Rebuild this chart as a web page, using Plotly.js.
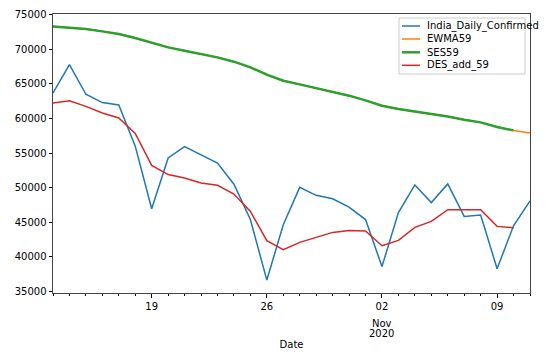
<!DOCTYPE html>
<html>
<head>
<meta charset="utf-8">
<script src="https://cdn.plot.ly/plotly-3.0.1.min.js"></script>
<style>html,body{margin:0;padding:0;background:#fff;}#chart{width:557px;height:360px;}</style>
</head>
<body>
<div id="chart"></div>
<script>
const dates = ["2020-10-13","2020-10-14","2020-10-15","2020-10-16","2020-10-17","2020-10-18","2020-10-19","2020-10-20","2020-10-21","2020-10-22","2020-10-23","2020-10-24","2020-10-25","2020-10-26","2020-10-27","2020-10-28","2020-10-29","2020-10-30","2020-10-31","2020-11-01","2020-11-02","2020-11-03","2020-11-04","2020-11-05","2020-11-06","2020-11-07","2020-11-08","2020-11-09","2020-11-10","2020-11-11"];
const dailyConfirmed = [63700,67800,63500,62300,61950,56000,46950,54300,55950,54750,53550,50500,45400,36650,44650,50050,48900,48400,47200,45400,38600,46400,50400,47850,50550,45850,46050,38300,44500,48100];
const ewma59 = [73310,73170,72930,72590,72210,71630,70910,70280,69800,69320,68830,68210,67390,66330,65460,64930,64400,63830,63300,62620,61850,61370,61030,60650,60300,59830,59440,58770,58280,57910];
const ses59 = [73310,73170,72930,72590,72210,71630,70910,70280,69800,69320,68830,68210,67390,66330,65460,64930,64400,63830,63300,62620,61850,61370,61030,60650,60300,59830,59440,58770,58280,null];
const desAdd59 = [62240,62570,61750,60800,60070,57850,53230,51900,51410,50680,50340,49090,46580,42340,41040,42100,42820,43540,43830,43740,41620,42390,44270,45140,46820,46820,46820,44410,44220,null];
const seriesNames = ["India_Daily_Confirmed","EWMA59","SES59","DES_add_59"];
const majorTicks = ["2020-10-19","2020-10-26","2020-11-02","2020-11-09"];
const majorTickText = ["19","26","02","09"];
const yTicks = [35000,40000,45000,50000,55000,60000,65000,70000,75000];

const colors = ["#1f77b4","#ff7f0e","#2ca02c","#d62728"];
const widths = [1.5,1.5,2.5,1.5];
const font = {family: "DejaVu Sans", size: 10, color: "#000"};
const seriesValues = [dailyConfirmed, ewma59, ses59, desAdd59];
const traces = seriesValues.map((v, i) => ({
  x: dates, y: v, name: seriesNames[i], mode: "lines", line: {color: colors[i], width: widths[i]}, showlegend: false
}));

// plot-area geometry in pixels (for the hand-drawn legend)
const W = 557, H = 360, L = 53, R = 27, T = 14, B = 67;
const pw = W - L - R, ph = H - T - B;
const px = x => (x - L) / pw;
const py = y => 1 - (y - T) / ph;

const shapes = [{
  type: "rect", xref: "paper", yref: "paper",
  x0: px(399), x1: px(525), y0: py(74), y1: py(18),
  line: {color: "#cccccc", width: 1}, fillcolor: "rgba(255,255,255,0.8)", layer: "above"
}];
const annotations = [
  {x: "2020-11-02", y: 0, xref: "x", yref: "paper", yshift: -30, yanchor: "middle", showarrow: false, text: "Nov", font: font},
  {x: "2020-11-02", y: 0, xref: "x", yref: "paper", yshift: -40, yanchor: "middle", showarrow: false, text: "2020", font: font}
];
const itemY = [26, 39, 52.3, 65.3];
seriesNames.forEach((n, i) => {
  shapes.push({type: "line", xref: "paper", yref: "paper", x0: px(402), x1: px(420), y0: py(itemY[i]), y1: py(itemY[i]),
    line: {color: colors[i], width: widths[i]}, layer: "above"});
  annotations.push({x: px(426), y: py(itemY[i]), xref: "paper", yref: "paper", xanchor: "left", yanchor: "middle",
    showarrow: false, text: n, font: font, borderpad: 0});
});

const layout = {
  width: W, height: H,
  margin: {l: L, r: R, t: T, b: B},
  paper_bgcolor: "#fff", plot_bgcolor: "#fff",
  font: font,
  showlegend: false,
  xaxis: {
    type: "date", range: ["2020-10-13", "2020-11-11"],
    tickmode: "array", tickvals: majorTicks, ticktext: majorTickText,
    ticks: "outside", ticklen: 3.5, tickcolor: "#000", tickfont: font,
    minor: {dtick: 86400000, ticks: "outside", ticklen: 2, tickcolor: "#000", showgrid: false},
    showgrid: false, zeroline: false, showline: true, linecolor: "#444", linewidth: 1, mirror: true,
    title: {text: "Date", font: font, standoff: 30}
  },
  yaxis: {
    range: [34783, 75100], tickmode: "array", tickvals: yTicks, ticktext: yTicks.map(String),
    ticks: "outside", ticklen: 3.5, tickcolor: "#000", tickfont: font,
    showgrid: false, zeroline: false, showline: true, linecolor: "#444", linewidth: 1, mirror: true
  },
  shapes: shapes,
  annotations: annotations
};
Plotly.newPlot("chart", traces, layout, {displayModeBar: false, staticPlot: true});
</script>
</body>
</html>
